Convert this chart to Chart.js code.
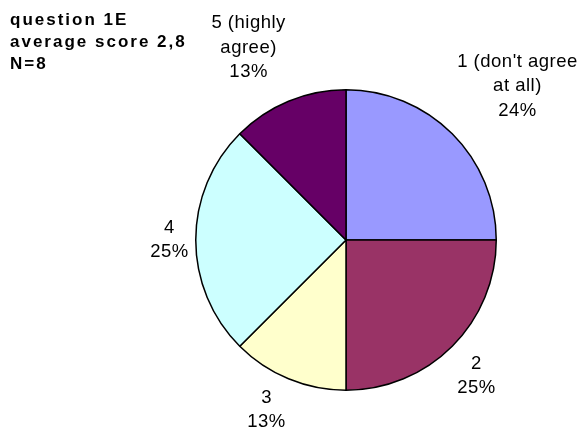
<!DOCTYPE html>
<html><head><meta charset="utf-8">
<script src="https://cdn.jsdelivr.net/npm/chart.js@4/dist/chart.umd.min.js"></script>
<style>html,body{margin:0;padding:0;background:#fff;}canvas{display:block;}</style>
</head><body>
<canvas id="c" width="581" height="437"></canvas>
<script>
const categories = [["1 (don't agree", "at all)"], ["2"], ["3"], ["4"], ["5 (highly", "agree)"]];
const counts = [2, 2, 1, 2, 1];
const percentLabels = ["24%", "25%", "13%", "25%", "13%"];
const titleLines = ["question 1E", "average score 2,8", "N=8"];
const sliceColors = ["#9999FF", "#993366", "#FFFFCC", "#CCFFFF", "#660066"];

const FONT = '"Liberation Sans", Arial, sans-serif';
const LINE_H = 24.5;

const labelPlugin = {
  id: 'sliceLabels',
  afterDraw(chart) {
    const ctx = chart.ctx;
    const meta = chart.getDatasetMeta(0);
    ctx.save();
    ctx.fillStyle = '#000';
    ctx.font = '18.5px ' + FONT;
    ctx.letterSpacing = '0.5px';
    ctx.textAlign = 'center';
    ctx.textBaseline = 'middle';
    const clamp = v => Math.max(-1, Math.min(1, v));
    meta.data.forEach((arc, i) => {
      const lines = categories[i].concat([percentLabels[i]]);
      const w = Math.max(...lines.map(l => ctx.measureText(l).width));
      const h = lines.length * LINE_H;
      const mid = (arc.startAngle + arc.endAngle) / 2;
      const ux = Math.cos(mid), uy = Math.sin(mid);
      const d = arc.outerRadius + 7;
      const ax = arc.x + ux * d, ay = arc.y + uy * d;
      const up = Math.max(0, -uy);
      const cx = ax + clamp(ux / 0.35) * w / 2;
      const cy = ay + clamp(uy / 0.35) * h / 2 - 12 * up * up;
      lines.forEach((l, k) => {
        ctx.fillText(l, cx, cy - h / 2 + LINE_H / 2 + k * LINE_H);
      });
    });
    ctx.font = 'bold 17px ' + FONT;
    ctx.letterSpacing = '2px';
    ctx.textAlign = 'left';
    ctx.textBaseline = 'alphabetic';
    titleLines.forEach((t, k) => ctx.fillText(t, 10, 25 + k * 22));
    ctx.restore();
  }
};

new Chart(document.getElementById('c'), {
  type: 'pie',
  data: {
    labels: categories.map(c => c.join(' ')),
    datasets: [{
      data: counts,
      backgroundColor: sliceColors,
      borderColor: '#000',
      borderWidth: 1.5
    }]
  },
  options: {
    responsive: false,
    animation: false,
    layout: { padding: { left: 195, right: 84, top: 89, bottom: 46 } },
    plugins: { legend: { display: false }, tooltip: { enabled: false }, title: { display: false } }
  },
  plugins: [labelPlugin]
});
</script>
</body></html>
